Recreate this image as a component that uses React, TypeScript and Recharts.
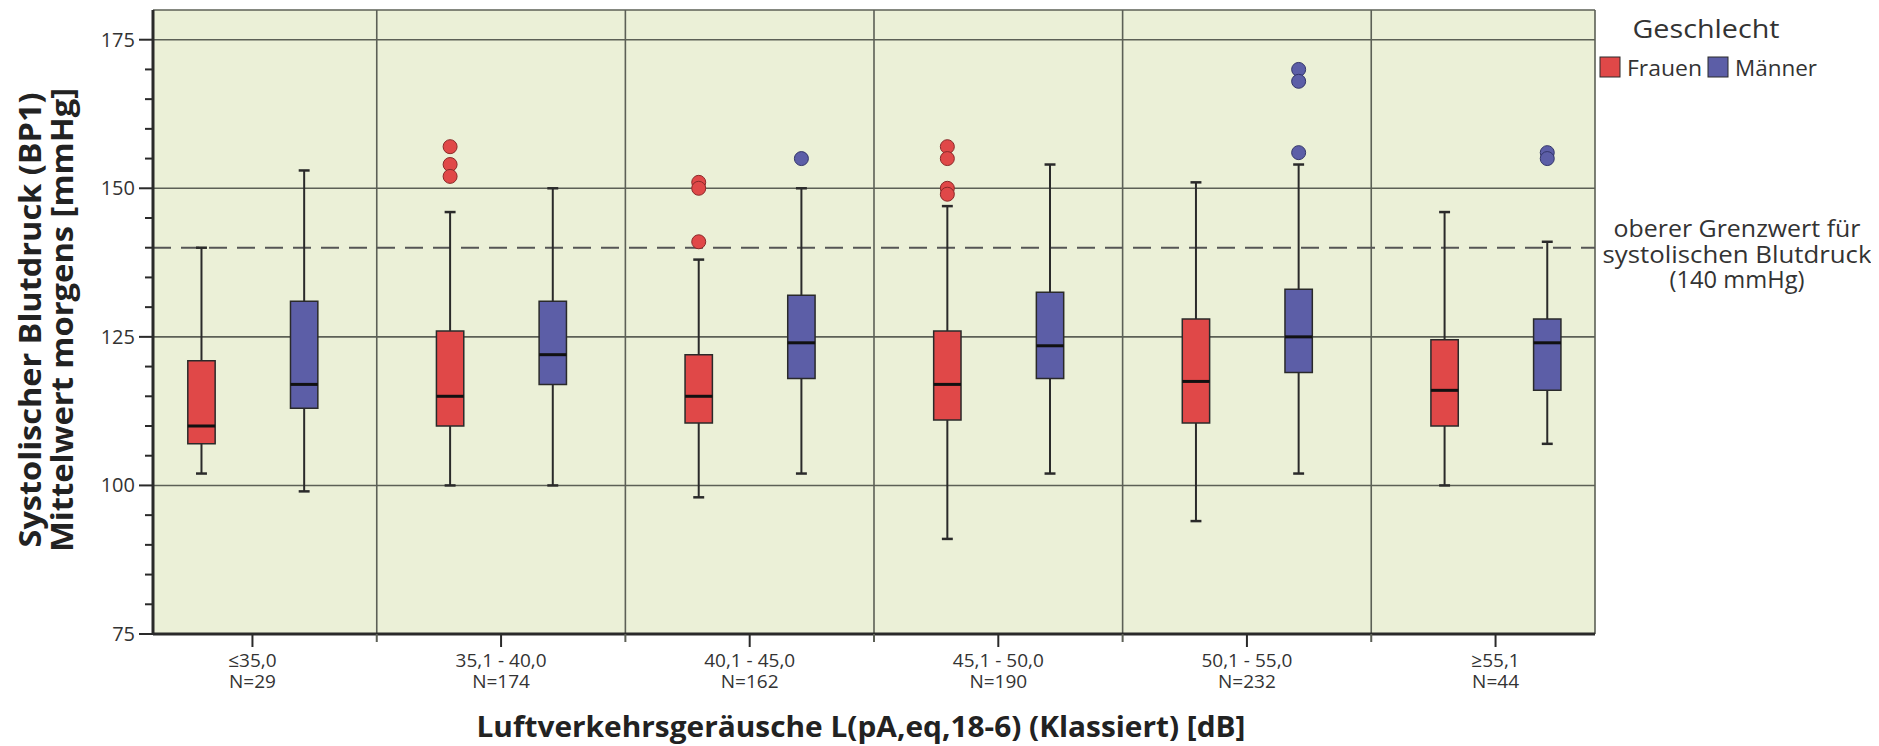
import React from "react";
import { ComposedChart, XAxis, YAxis, CartesianGrid, ReferenceArea, ReferenceLine, Scatter } from "recharts";

// categories (x axis) and group sizes
const categories = ["≤35,0", "35,1 - 40,0", "40,1 - 45,0", "45,1 - 50,0", "50,1 - 55,0", "≥55,1"];
const counts = [29, 174, 162, 190, 232, 44];

// Frauen box plot values
const frauenMin = [102, 100, 98, 91, 94, 100];
const frauenQ1 = [107, 110, 110.5, 111, 110.5, 110];
const frauenMedian = [110, 115, 115, 117, 117.5, 116];
const frauenQ3 = [121, 126, 122, 126, 128, 124.5];
const frauenMax = [140, 146, 138, 147, 151, 146];

// Männer box plot values
const maennerMin = [99, 100, 102, 102, 102, 107];
const maennerQ1 = [113, 117, 118, 118, 119, 116];
const maennerMedian = [117, 122, 124, 123.5, 125, 124];
const maennerQ3 = [131, 131, 132, 132.5, 133, 128];
const maennerMax = [153, 150, 150, 154, 154, 141];

// outliers: category number + value
const frauenOutlierCat = [2, 2, 2, 3, 3, 3, 4, 4, 4, 4];
const frauenOutlierVal = [157, 154, 152, 151, 150, 141, 157, 155, 150, 149];
const maennerOutlierCat = [3, 5, 5, 5, 6, 6];
const maennerOutlierVal = [155, 170, 168, 156, 156, 155];

const yTicks = [75, 80, 85, 90, 95, 100, 105, 110, 115, 120, 125, 130, 135, 140, 145, 150, 155, 160, 165, 170, 175];
const yLabeled = [75, 100, 125, 150, 175];
const xTicks = [1, 1.5, 2, 2.5, 3, 3.5, 4, 4.5, 5, 5.5, 6];
const limitValue = 140;

const RED = "#e04848";
const BLUE = "#5c5ea7";
const DARK = "#2a2a2a";
const GRID = "#5c6056";
const FONT = "'Open Sans', sans-serif";

const F_OFF = -0.205;
const M_OFF = 0.208;
const HALF_BOX = 0.055;
const HALF_CAP = 0.022;

const W = 1863;
const H = 738;

function YTick(props: any) {
  const { x, y, payload } = props;
  const major = yLabeled.includes(payload.value);
  return (
    <g>
      <line x1={x - (major ? 14 : 8)} x2={x} y1={y} y2={y} stroke={DARK} strokeWidth={2} />
      {major && (
        <text x={x - 18} y={y} dy={7} textAnchor="end" fontSize={20} fill="#333" fontFamily={FONT}>
          {payload.value}
        </text>
      )}
    </g>
  );
}

function XTick(props: any) {
  const { x, y, payload } = props;
  const v = payload.value;
  if (!Number.isInteger(v)) {
    return <line x1={x} x2={x} y1={y} y2={y + 8} stroke={GRID} strokeWidth={2} />;
  }
  return (
    <g>
      <line x1={x} x2={x} y1={y} y2={y + 13} stroke={DARK} strokeWidth={2} />
      <text x={x} y={y + 33} textAnchor="middle" fontSize={19} fill="#333" fontFamily={FONT}>
        {categories[v - 1]}
      </text>
      <text x={x} y={y + 54} textAnchor="middle" fontSize={19} fill="#333" fontFamily={FONT}>
        {"N=" + counts[v - 1]}
      </text>
    </g>
  );
}

function Dot(color: string, edge: string) {
  return (props: any) => <circle cx={props.cx} cy={props.cy} r={7} fill={color} stroke={edge} strokeWidth={1} />;
}

function boxes(min: number[], q1: number[], med: number[], q3: number[], max: number[], off: number, color: string, key: string) {
  const out: any[] = [];
  categories.forEach((_, i) => {
    const cx = i + 1 + off;
    out.push(
      <ReferenceLine key={key + "wt" + i} segment={[{ x: cx, y: q3[i] }, { x: cx, y: max[i] }]} stroke={DARK} strokeWidth={2} />,
      <ReferenceLine key={key + "wb" + i} segment={[{ x: cx, y: min[i] }, { x: cx, y: q1[i] }]} stroke={DARK} strokeWidth={2} />,
      <ReferenceLine key={key + "ct" + i} segment={[{ x: cx - HALF_CAP, y: max[i] }, { x: cx + HALF_CAP, y: max[i] }]} stroke={DARK} strokeWidth={2.5} />,
      <ReferenceLine key={key + "cb" + i} segment={[{ x: cx - HALF_CAP, y: min[i] }, { x: cx + HALF_CAP, y: min[i] }]} stroke={DARK} strokeWidth={2.5} />,
      <ReferenceArea key={key + "b" + i} x1={cx - HALF_BOX} x2={cx + HALF_BOX} y1={q1[i]} y2={q3[i]} fill={color} fillOpacity={1} stroke={DARK} strokeWidth={1.5} ifOverflow="visible" />,
      <ReferenceLine key={key + "m" + i} segment={[{ x: cx - HALF_BOX, y: med[i] }, { x: cx + HALF_BOX, y: med[i] }]} stroke="#111" strokeWidth={3} />
    );
  });
  return out;
}

export default function App() {
  const frauenOutliers = frauenOutlierCat.map((c, i) => ({ x: c + F_OFF, y: frauenOutlierVal[i] }));
  const maennerOutliers = maennerOutlierCat.map((c, i) => ({ x: c + M_OFF, y: maennerOutlierVal[i] }));

  return (
    <div style={{ position: "relative", width: W, height: H }}>
      <ComposedChart width={W} height={H} margin={{ top: 2, right: 276, bottom: 0, left: 0 }}>
        <CartesianGrid
          fill="#ebf0d7"
          fillOpacity={1}
          stroke={GRID}
          strokeWidth={1.6}
          horizontalValues={[100, 125, 150, 175, 180]}
          verticalValues={[1.5, 2.5, 3.5, 4.5, 5.5, 6.4]}
        />
        <XAxis
          type="number"
          dataKey="x"
          domain={[0.6, 6.4]}
          allowDataOverflow
          ticks={xTicks}
          interval={0}
          tickLine={false}
          tickSize={0}
          tickMargin={0}
          tick={<XTick />}
          height={112}
          axisLine={{ stroke: DARK, strokeWidth: 3 }}
        />
        <YAxis
          type="number"
          dataKey="y"
          domain={[75, 180]}
          allowDataOverflow
          ticks={yTicks}
          interval={0}
          tickLine={false}
          tickSize={0}
          tickMargin={0}
          tick={<YTick />}
          width={145}
          axisLine={{ stroke: DARK, strokeWidth: 3 }}
        />
        <ReferenceLine y={limitValue} stroke="#555" strokeWidth={2} strokeDasharray="18 10" />
        {boxes(frauenMin, frauenQ1, frauenMedian, frauenQ3, frauenMax, F_OFF, RED, "f")}
        {boxes(maennerMin, maennerQ1, maennerMedian, maennerQ3, maennerMax, M_OFF, BLUE, "m")}
        <Scatter name="Frauen" data={frauenOutliers} shape={Dot(RED, "#8a2a2a")} isAnimationActive={false} />
        <Scatter name="Männer" data={maennerOutliers} shape={Dot(BLUE, "#33356a")} isAnimationActive={false} />
      </ComposedChart>

      <svg width={W} height={H} style={{ position: "absolute", left: 0, top: 0, pointerEvents: "none" }} fontFamily={FONT}>
        <text transform="translate(33,312) rotate(-90)" textAnchor="middle" fontSize={30} fontWeight={700} fill="#222" textLength={455} lengthAdjust="spacingAndGlyphs">
          Systolischer Blutdruck (BP1)
        </text>
        <text transform="translate(65,312) rotate(-90)" textAnchor="middle" fontSize={30} fontWeight={700} fill="#222" textLength={464} lengthAdjust="spacingAndGlyphs">
          Mittelwert morgens [mmHg]
        </text>
        <text x={853} y={729} textAnchor="middle" fontSize={29} fontWeight={700} fill="#222" textLength={769} lengthAdjust="spacingAndGlyphs">
          Luftverkehrsgeräusche  L(pA,eq,18-6) (Klassiert) [dB]
        </text>

        <text x={1698} y={30} textAnchor="middle" fontSize={26} fill="#333" textLength={147} lengthAdjust="spacingAndGlyphs">Geschlecht</text>
        <rect x={1592} y={49} width={20} height={20} fill={RED} stroke={DARK} strokeWidth={1} />
        <text x={1619} y={68} fontSize={21} fill="#333" textLength={75} lengthAdjust="spacingAndGlyphs">Frauen</text>
        <rect x={1700} y={49} width={20} height={20} fill={BLUE} stroke={DARK} strokeWidth={1} />
        <text x={1727} y={68} fontSize={21} fill="#333" textLength={82} lengthAdjust="spacingAndGlyphs">Männer</text>

        <text x={1729} y={229} textAnchor="middle" fontSize={23} fill="#333" textLength={247} lengthAdjust="spacingAndGlyphs">oberer Grenzwert für</text>
        <text x={1729} y={255} textAnchor="middle" fontSize={23} fill="#333" textLength={269} lengthAdjust="spacingAndGlyphs">systolischen Blutdruck</text>
        <text x={1729} y={280} textAnchor="middle" fontSize={23} fill="#333" textLength={135} lengthAdjust="spacingAndGlyphs">(140 mmHg)</text>
      </svg>
    </div>
  );
}
